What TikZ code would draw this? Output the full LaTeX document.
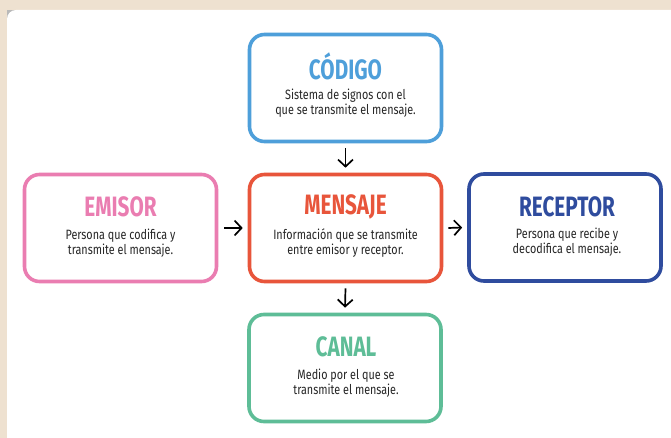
\documentclass[tikz,border=0pt]{standalone}
\usepackage{fontspec}
\setmainfont{Fira Sans}
\newfontfamily\titlefont[FakeStretch=0.74]{Fira Sans}
\newfontfamily\bodyfont[FakeStretch=0.8]{Fira Sans}
\usetikzlibrary{arrows.meta}
\definecolor{bgbeige}{HTML}{EEE1D0}
\definecolor{cblue}{HTML}{4E9FDA}
\definecolor{cpink}{HTML}{EA7DB1}
\definecolor{cred}{HTML}{E8553B}
\definecolor{cnavy}{HTML}{2F4C9E}
\definecolor{cgreen}{HTML}{5EBD97}
\definecolor{ctext}{HTML}{262626}
\tikzset{
  box/.style={draw=#1, line width=3.6pt, rounded corners=15pt, minimum width=192pt, minimum height=107pt, fill=white},
  ttl/.style={text=#1, font=\titlefont\bfseries\fontsize{28}{28}\selectfont, inner sep=0pt},
  bodytxt/.style={text=ctext, font=\bodyfont\fontsize{13.5}{15}\selectfont, align=center, inner sep=0pt},
  conn/.style={-{Straight Barb[length=7pt,width=15pt,line width=1.7pt]}, line width=1.7pt, black}
}
\begin{document}
\begin{tikzpicture}[x=1pt,y=-1pt]
\useasboundingbox (0,0) rectangle (671,438);
\fill[bgbeige] (0,0) rectangle (671,438);
\fill[gray!55] (7,10) rectangle (18,21);
\fill[white, rounded corners=9pt] (7,10) rectangle (690,460);
% boxes
\node[box=cblue] (codigo) at (345.5,88) {};
\node[box=cpink] (emisor) at (120.5,228) {};
\node[box=cred] (mensaje) at (345.5,228) {};
\node[box=cnavy] (receptor) at (565,227.5) {};
\node[box=cgreen] (canal) at (345,368) {};
% titles
\node[ttl=cblue] (t1) at (345.5,66) {CÓDIGO};
\node[ttl=cpink] (t2) at (120.5,207) {EMISOR};
\node[ttl=cred] (t3) at (345.5,207) {MENSAJE};
\node[ttl=cnavy] (t4) at (567,206.5) {RECEPTOR};
\node[ttl=cgreen] (t5) at (346,346.5) {CANAL};
% bodies
\node[bodytxt] (b1) at (345.5,103.5) {Sistema de signos con el\\que se transmite el mensaje.};
\node[bodytxt] (b2) at (120.5,243) {Persona que codifica y\\transmite el mensaje.};
\node[bodytxt] (b3) at (345.5,243) {Información que se transmite\\entre emisor y receptor.};
\node[bodytxt] (b4) at (567,242.5) {Persona que recibe y\\decodifica el mensaje.};
\node[bodytxt] (b5) at (346,383) {Medio por el que se\\transmite el mensaje.};
% connectors
\draw[conn] ([yshift=-5pt]codigo.south) -- ([yshift=5pt]mensaje.north);
\draw[conn] ([xshift=6pt]emisor.east) -- ([xshift=-5pt]mensaje.west);
\draw[conn] ([xshift=5pt]mensaje.east) -- ([xshift=-5pt]receptor.west);
\draw[conn] ([yshift=-5pt]mensaje.south) -- ([yshift=5pt]canal.north);
\end{tikzpicture}
\end{document}
